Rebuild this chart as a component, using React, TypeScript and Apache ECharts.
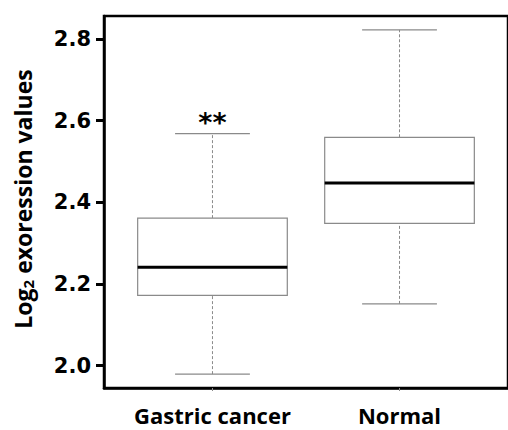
import React, { useEffect, useRef } from "react";
import * as echarts from "echarts";

const categories = ["Gastric cancer", "Normal"];
const lowerWhisker = [1.979, 2.151];
const q1 = [2.172, 2.348];
const median = [2.241, 2.447];
const q3 = [2.361, 2.559];
const upperWhisker = [2.568, 2.822];
const significance = ["**", ""];
const yTicks = [2.0, 2.2, 2.4, 2.6, 2.8];
const xTicks = [1, 2];

export default function App() {
  const ref = useRef<HTMLDivElement>(null);
  useEffect(() => {
    if (!ref.current) return;
    const chart = echarts.init(ref.current, null, { renderer: "svg" });
    const data = categories.map((_, i) => [
      i + 1,
      lowerWhisker[i],
      q1[i],
      median[i],
      q3[i],
      upperWhisker[i],
      i,
    ]);
    const grey = "#8a8a8a";
    chart.setOption({
      animation: false,
      backgroundColor: "#fff",
      grid: {
        left: 104,
        top: 16,
        right: -13,
        bottom: 42,
        show: true,
        borderColor: "#000",
        borderWidth: 2.5,
        backgroundColor: "transparent",
      },
      xAxis: {
        type: "value",
        min: 0.42,
        max: 2.58,
        splitLine: { show: false },
        axisLine: { show: true, lineStyle: { color: "#000", width: 2.5 } },
        axisTick: {
          show: true,
          customValues: xTicks,
          length: 3,
          lineStyle: { color: grey, width: 1 },
        },
        axisLabel: {
          customValues: xTicks,
          formatter: (v: number) => categories[Math.round(v) - 1] ?? "",
          fontFamily: "Open Sans",
          fontWeight: "bold",
          fontSize: 22,
          lineHeight: 20,
          color: "#000",
          margin: 17,
        },
      },
      yAxis: {
        type: "value",
        min: 1.945,
        max: 2.856,
        splitLine: { show: false },
        axisLine: { show: true, lineStyle: { color: "#000", width: 2.5 } },
        axisTick: {
          show: true,
          customValues: yTicks,
          length: 8,
          lineStyle: { color: "#000", width: 3 },
        },
        axisLabel: {
          customValues: yTicks,
          formatter: (v: number) => v.toFixed(1),
          fontFamily: "DejaVu Sans",
          fontWeight: "bold",
          fontSize: 21,
          color: "#000",
          margin: 13,
        },
      },
      graphic: [
        {
          type: "text",
          x: 23,
          y: 199,
          rotation: Math.PI / 2,
          style: {
            text: "{n|Log}{s|2}{n| exoression values}",
            align: "center",
            verticalAlign: "middle",
            rich: {
              n: {
                fontFamily: "Open Sans",
                fontWeight: "bold",
                fontSize: 23,
                fill: "#000",
              },
              s: {
                fontFamily: "Open Sans",
                fontWeight: "bold",
                fontSize: 15,
                fill: "#000",
                verticalAlign: "bottom",
                padding: [10, 0, 0, 0],
              },
            },
          },
        },
      ],
      series: [
        {
          type: "custom",
          data,
          encode: { x: 0, y: [1, 2, 3, 4, 5] },
          renderItem: (params: any, api: any) => {
            const x = api.value(0);
            const lo = api.coord([x, api.value(1)]);
            const b1 = api.coord([x, api.value(2)]);
            const md = api.coord([x, api.value(3)]);
            const b3 = api.coord([x, api.value(4)]);
            const hi = api.coord([x, api.value(5)]);
            const idx = api.value(6);
            const w = api.size([0.8, 0])[0];
            const cx = lo[0];
            const cap = w / 4;
            const children: any[] = [
              {
                type: "line",
                shape: { x1: cx, y1: b3[1], x2: cx, y2: hi[1] },
                style: { stroke: grey, lineWidth: 1, lineDash: [3, 2] },
              },
              {
                type: "line",
                shape: { x1: cx, y1: lo[1], x2: cx, y2: b1[1] },
                style: { stroke: grey, lineWidth: 1, lineDash: [3, 2] },
              },
              {
                type: "line",
                shape: { x1: cx - cap, y1: hi[1], x2: cx + cap, y2: hi[1] },
                style: { stroke: grey, lineWidth: 1.2 },
              },
              {
                type: "line",
                shape: { x1: cx - cap, y1: lo[1], x2: cx + cap, y2: lo[1] },
                style: { stroke: grey, lineWidth: 1.2 },
              },
              {
                type: "rect",
                shape: { x: cx - w / 2, y: b3[1], width: w, height: b1[1] - b3[1] },
                style: { fill: "#fff", stroke: grey, lineWidth: 1.2 },
              },
              {
                type: "line",
                shape: { x1: cx - w / 2, y1: md[1], x2: cx + w / 2, y2: md[1] },
                style: { stroke: "#000", lineWidth: 3 },
              },
            ];
            const sig = significance[idx];
            if (sig) {
              children.push({
                type: "text",
                x: cx,
                y: hi[1] + 2,
                style: {
                  text: sig,
                  align: "center",
                  verticalAlign: "bottom",
                  fontFamily: "DejaVu Sans",
                  fontWeight: "bold",
                  fontSize: 27,
                  fill: "#000",
                },
              });
            }
            return { type: "group", children };
          },
        },
      ],
    });
    return () => chart.dispose();
  }, []);
  return (
    <div
      ref={ref}
      style={{ position: "absolute", left: 0, top: 0, width: 508, height: 430 }}
    />
  );
}
